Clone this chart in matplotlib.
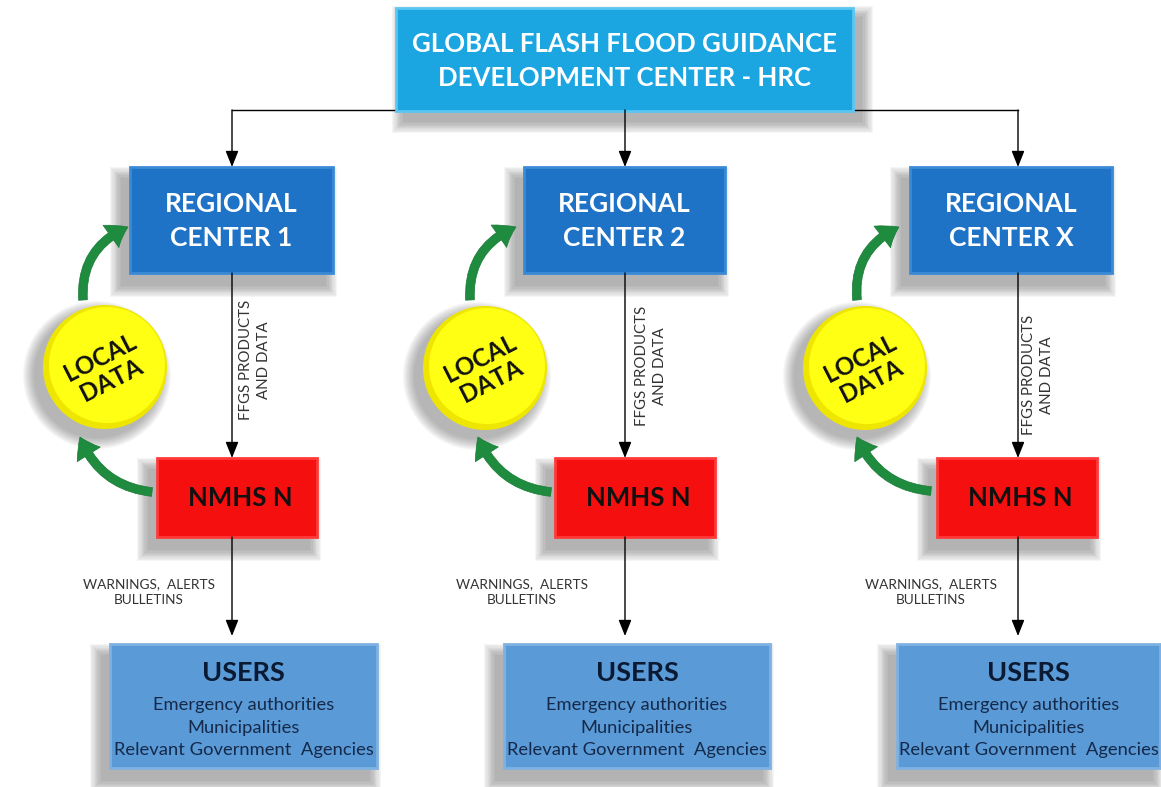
import matplotlib
matplotlib.use("Agg")
import matplotlib.pyplot as plt
from matplotlib.patches import Rectangle, Circle, FancyArrowPatch

plt.rcParams['font.family'] = ['Lato', 'DejaVu Sans']

# ---- content ----
top_label = "GLOBAL FLASH FLOOD GUIDANCE\nDEVELOPMENT CENTER - HRC"
regional_labels = ["REGIONAL\nCENTER 1", "REGIONAL\nCENTER 2", "REGIONAL\nCENTER X"]
nmhs_labels = ["NMHS N", "NMHS N", "NMHS N"]
local_label = "LOCAL\nDATA"
ffgs_label = "FFGS PRODUCTS\nAND DATA"
warn_label = "WARNINGS,  ALERTS\nBULLETINS"
users_title = "USERS"
users_lines = ["Emergency authorities", "Municipalities", "Relevant Government  Agencies"]

# ---- layout (pixel coordinates) ----
W, H = 1161, 787
col_x = [232, 625, 1018]
top_box = (396, 8, 853, 111)
bus_y = 110
reg_boxes = [(130, 167, 333, 273), (524, 167, 725, 273), (910, 167, 1112, 273)]
nmhs_boxes = [(157, 458, 317, 537), (555, 458, 715, 537), (937, 458, 1097, 537)]
users_boxes = [(110, 644, 377, 768), (504, 644, 770, 768), (897, 644, 1160, 768)]
circles = [(105, 367), (485, 368), (865, 368)]
circ_r = 62
ffgs_pos = [(255, 360), (651, 366), (1038, 375)]
warn_pos = [(149, 592), (522, 592), (931, 592)]
up_arrows = [((83, 300), (128, 227)), ((470, 300), (516, 227)), ((857, 300), (899, 227))]
low_arrows = [((152, 492), (80, 437)), ((551, 492), (478, 437)), ((931, 491), (857, 437))]

fig = plt.figure(figsize=(W / 100, H / 100), dpi=100)
ax = fig.add_axes([0, 0, 1, 1])
ax.set_xlim(0, W)
ax.set_ylim(H, 0)
ax.axis('off')
fig.patch.set_facecolor('white')


def shadow(x0, y0, x1, y1, dx=-8, dy=12, n=10, spread=12, z=1):
    for i in range(n):
        p = spread * (n - i) / n
        ax.add_patch(Rectangle((x0 + dx - p, y0 + dy - p), (x1 - x0) + 2 * p, (y1 - y0) + 2 * p,
                               facecolor='#5a5a5a', edgecolor='none', alpha=0.055, zorder=z))


def box(b, face, edge, dx=-8, dy=12, z=3):
    x0, y0, x1, y1 = b
    shadow(x0, y0, x1, y1, dx=dx, dy=dy)
    ax.add_patch(Rectangle((x0, y0), x1 - x0, y1 - y0, facecolor=face, edgecolor=edge,
                           linewidth=2.0, zorder=z))


def arrow_line(p0, p1):
    ax.add_patch(FancyArrowPatch(p0, p1, arrowstyle='-|>,head_length=0.7,head_width=0.28',
                                 mutation_scale=14, color='black', linewidth=1.0,
                                 shrinkA=0, shrinkB=0, zorder=5))


# top box
box(top_box, '#1ba6e2', '#5cc6f0', dx=8, dy=10)
ax.text((top_box[0] + top_box[2]) / 2, (top_box[1] + top_box[3]) / 2 + 1, top_label,
        ha='center', va='center', color='white', fontsize=18.5, fontweight='bold',
        linespacing=1.5, zorder=6)

# bus line
ax.plot([col_x[0], col_x[2]], [bus_y, bus_y], color='black', lw=1.0, zorder=2)

for i in range(3):
    cx = col_x[i]
    # arrows down
    arrow_line((cx, bus_y), (cx, reg_boxes[i][1]))
    arrow_line((cx, reg_boxes[i][3]), (cx, nmhs_boxes[i][1]))
    arrow_line((cx, nmhs_boxes[i][3]), (cx, users_boxes[i][1] - 8))

    # regional center
    rb = reg_boxes[i]
    box(rb, '#1f73c6', '#3a8ad6')
    ax.text((rb[0] + rb[2]) / 2, (rb[1] + rb[3]) / 2 + 1, regional_labels[i],
            ha='center', va='center', color='white', fontsize=19, fontweight='bold',
            linespacing=1.5, zorder=6)

    # NMHS
    nb = nmhs_boxes[i]
    box(nb, '#f50f0f', '#ff3a3a')
    ax.text((nb[0] + nb[2]) / 2 + 3, (nb[1] + nb[3]) / 2 + 1, nmhs_labels[i],
            ha='center', va='center', color='#111111', fontsize=18.5, fontweight='bold', zorder=6)

    # users
    ub = users_boxes[i]
    box(ub, '#5a9ad6', '#7fb2e2')
    ucx = (ub[0] + ub[2]) / 2
    ax.text(ucx, ub[1] + 29, users_title, ha='center', va='center', color='#0b1a33',
            fontsize=19.5, fontweight='bold', zorder=6)
    for k, line in enumerate(users_lines):
        ax.text(ucx, ub[1] + 61 + 22.5 * k, line, ha='center', va='center', color='#15294a',
                fontsize=13.2, zorder=6)

    # FFGS rotated label
    fx, fy = ffgs_pos[i]
    ax.text(fx, fy, ffgs_label, rotation=90, ha='center', va='center', color='#333333',
            fontsize=10.8, multialignment='center', linespacing=1.3, zorder=6)

    # warnings label
    wx, wy = warn_pos[i]
    ax.text(wx, wy, warn_label, ha='center', va='center', color='#333333', fontsize=9.8,
            multialignment='center', linespacing=1.35, zorder=6)

    # local data circle with shadow
    ccx, ccy = circles[i]
    for k in range(10):
        p = 12 * (10 - k) / 10
        ax.add_patch(Circle((ccx - 8, ccy + 8), circ_r + p, facecolor='#606060',
                            edgecolor='none', alpha=0.055, zorder=2))
    ax.add_patch(Circle((ccx, ccy), circ_r, facecolor='#eee600', edgecolor='none', zorder=3))
    ax.add_patch(Circle((ccx + 2, ccy - 2), circ_r - 4, facecolor='#ffff14', edgecolor='none', zorder=3))
    ax.text(ccx + 1, ccy + 2, local_label, rotation=27, ha='center', va='center',
            color='#111111', fontsize=17.5, fontweight='bold', linespacing=1.15,
            rotation_mode='anchor', zorder=6)

    # green curved arrows
    for (p0, p1), rad in ((up_arrows[i], -0.35), (low_arrows[i], -0.3)):
        ax.add_patch(FancyArrowPatch(p0, p1, connectionstyle=f'arc3,rad={rad}',
                                     arrowstyle='simple,head_length=1.0,head_width=1.4,tail_width=0.45',
                                     mutation_scale=14, facecolor='#1e8b3e', edgecolor='#1a7a36',
                                     linewidth=0.5, shrinkA=0, shrinkB=0, zorder=5))

fig.savefig('out.png', dpi=100, facecolor='white')
